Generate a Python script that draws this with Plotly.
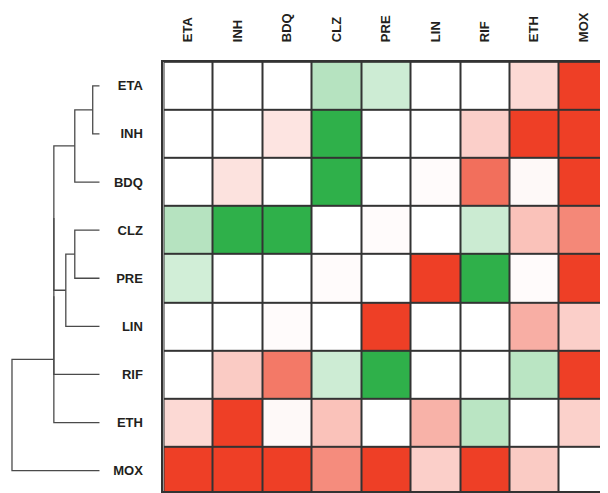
import plotly.graph_objects as go

drugs = ["ETA", "INH", "BDQ", "CLZ", "PRE", "LIN", "RIF", "ETH", "MOX"]

row_ETA = [0.00, 0.00, 0.00, -0.35, -0.24, 0.00, 0.00, 0.20, 1.00]
row_INH = [0.00, 0.00, 0.14, -1.00, 0.00, 0.00, 0.25, 1.00, 1.00]
row_BDQ = [0.00, 0.15, 0.00, -1.00, 0.00, 0.02, 0.75, 0.03, 1.00]
row_CLZ = [-0.35, -1.00, -1.00, 0.00, 0.02, 0.00, -0.25, 0.32, 0.62]
row_PRE = [-0.22, 0.00, 0.00, 0.02, 0.00, 1.00, -1.00, 0.02, 1.00]
row_LIN = [0.00, 0.00, 0.02, 0.00, 1.00, 0.00, 0.00, 0.42, 0.25]
row_RIF = [0.00, 0.27, 0.70, -0.24, -1.00, 0.00, 0.00, -0.33, 1.00]
row_ETH = [0.20, 1.00, 0.03, 0.32, 0.00, 0.40, -0.33, 0.00, 0.24]
row_MOX = [1.00, 1.00, 1.00, 0.60, 1.00, 0.25, 1.00, 0.27, 0.00]

rows = [row_ETA, row_INH, row_BDQ, row_CLZ, row_PRE, row_LIN, row_RIF, row_ETH, row_MOX]

# dendrogram merges: (child a, child b, merge height)
merge_a = ["ETA", "m0", "CLZ", "m2", "m1", "m4", "m5", "m6"]
merge_b = ["INH", "BDQ", "PRE", "LIN", "m3", "RIF", "ETH", "MOX"]
merge_h = [0.7, 2.5, 2.5, 3.4, 4.6, 4.6, 4.6, 8.8]

# the page body has an 8px default margin, so the figure is 8px smaller
OFF = 8
W, H = 608 - OFF, 493 - OFF
grid_left, grid_top = 164 - OFF, 62 - OFF
leaf_x = 100 - OFF
cell_w, cell_h = 49.6, 48.3

fig = go.Figure()

idx = list(range(len(drugs)))
fig.add_trace(go.Heatmap(
    z=rows, x=idx, y=idx,
    zmin=-1, zmax=1,
    colorscale=[[0, "#2fb04a"], [0.5, "#ffffff"], [1, "#ee3f26"]],
    showscale=False, xgap=2, ygap=2, hoverinfo="skip",
    xaxis="x", yaxis="y",
))

# dendrogram
pos = {d: (i, 0.0) for i, d in enumerate(drugs)}
for k, (a, b, h) in enumerate(zip(merge_a, merge_b, merge_h)):
    ya, ha = pos[a]
    yb, hb = pos[b]
    fig.add_trace(go.Scatter(
        x=[ha, h, h, hb], y=[ya, ya, yb, yb], mode="lines",
        line=dict(color="#4a4a4a", width=1.3), hoverinfo="skip",
        showlegend=False, xaxis="x2", yaxis="y2", cliponaxis=False,
    ))
    pos["m%d" % k] = ((ya + yb) / 2, h)

x_hi = -0.5 + (W - grid_left) / cell_w
y_hi = -0.5 + (H - grid_top) / cell_h
ydom = [0, 1 - grid_top / H]
tickfont = dict(family="Liberation Sans", size=13, color="#231f20", weight="bold")

# dark backing under the heatmap so cell gaps read as grid lines
fig.add_shape(type="rect", xref="x domain", yref="y domain", x0=0, x1=1, y0=0, y1=1,
              fillcolor="#333333", line=dict(width=0), layer="below")

fig.update_layout(
    width=W, height=H,
    margin=dict(l=0, r=0, t=0, b=0),
    paper_bgcolor="white", plot_bgcolor="white",
    showlegend=False,
    xaxis=dict(domain=[grid_left / W, 1], range=[-0.5, x_hi], side="top",
               tickvals=idx, ticktext=drugs, tickangle=-90, tickfont=tickfont,
               ticks="outside", ticklen=15, tickcolor="rgba(0,0,0,0)",
               showgrid=False, zeroline=False, showline=True, mirror=True,
               linecolor="#333333", linewidth=2, anchor="y"),
    yaxis=dict(domain=ydom, range=[y_hi, -0.5],
               tickvals=idx, ticktext=drugs, tickfont=tickfont,
               ticks="outside", ticklen=16, tickcolor="rgba(0,0,0,0)",
               showgrid=False, zeroline=False, showline=True, mirror=True,
               linecolor="#333333", linewidth=2, anchor="x"),
    xaxis2=dict(domain=[0, leaf_x / W], range=[(leaf_x) / 10.0, 0], visible=False, anchor="y2"),
    yaxis2=dict(domain=ydom, range=[y_hi, -0.5], visible=False, anchor="x2"),
)

fig.write_html("out.html")
